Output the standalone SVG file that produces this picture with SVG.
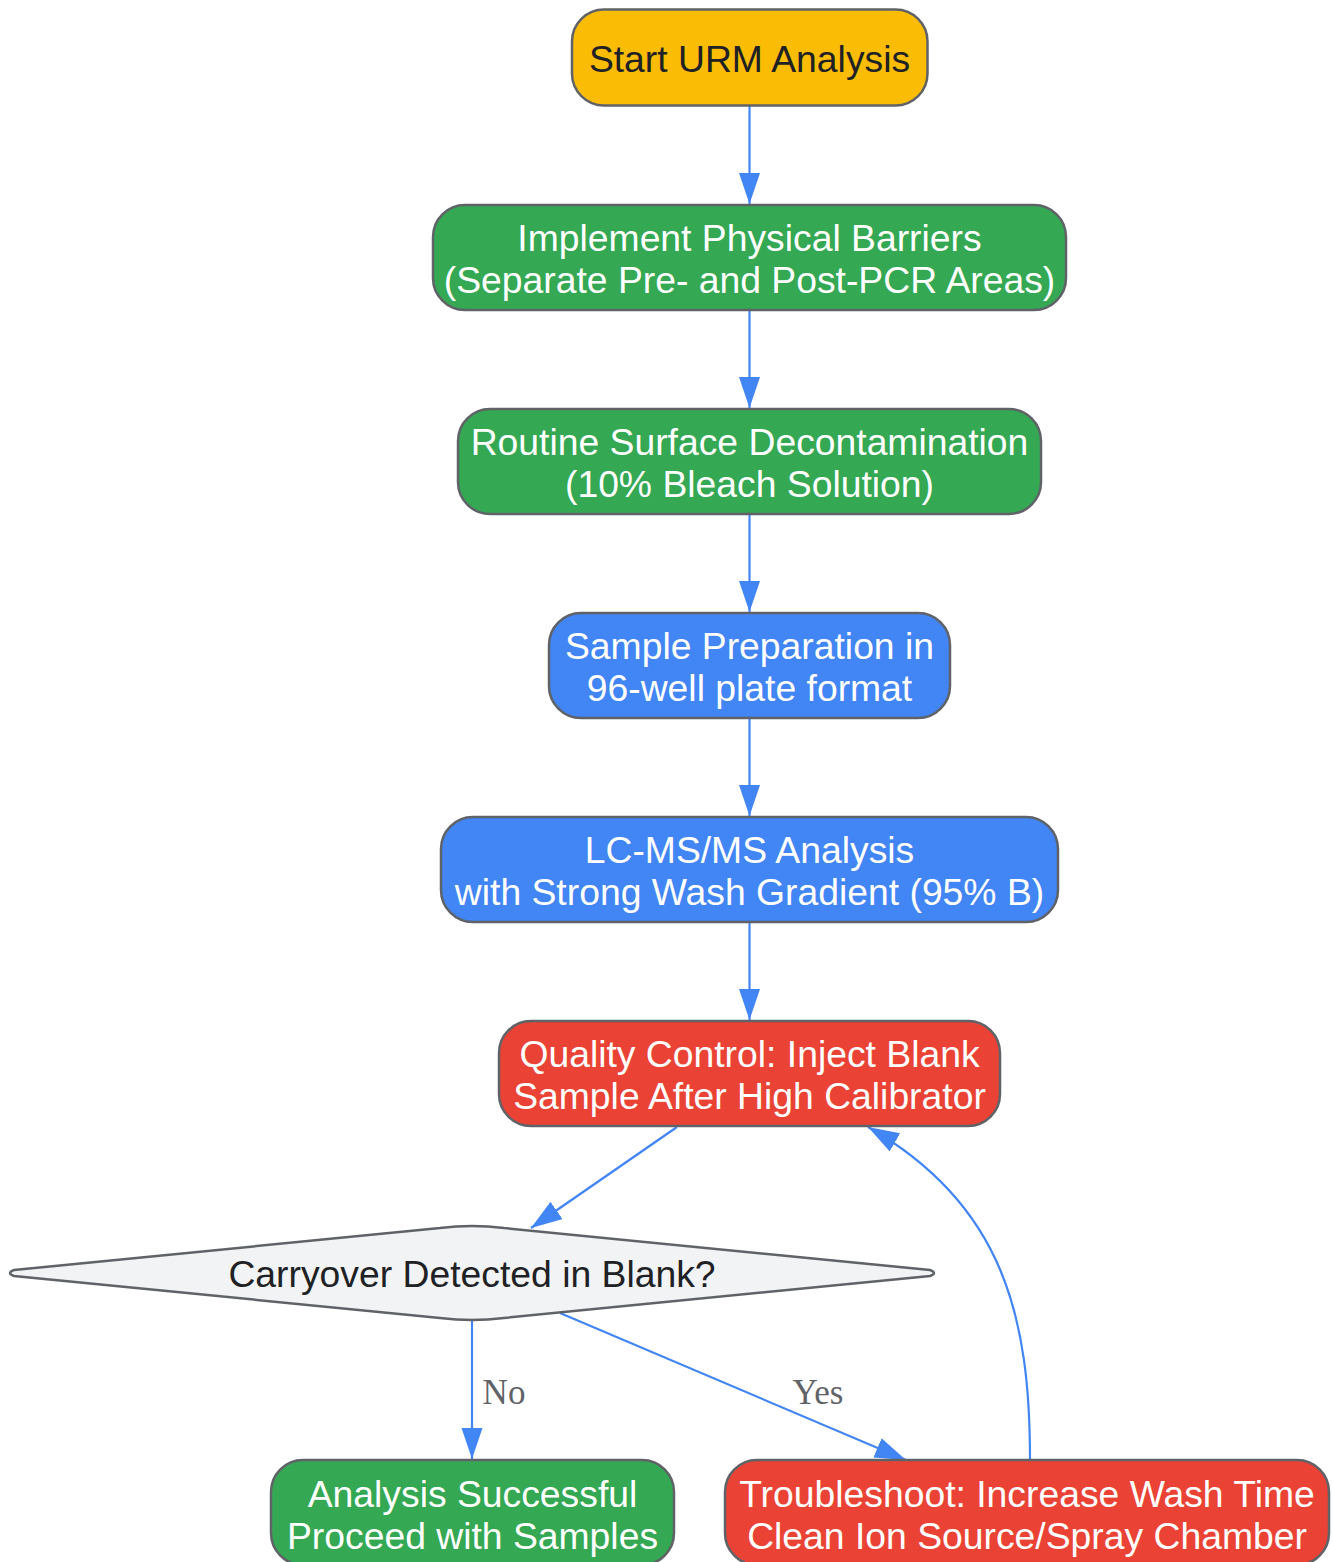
<svg xmlns="http://www.w3.org/2000/svg" width="1333" height="1562" viewBox="0 0 1333 1562">
<style>
.node{stroke:#5f6368;stroke-width:2.5}
.t{font-family:"Liberation Sans",Arial,sans-serif;font-size:37.3px;text-anchor:middle}
.w{fill:#ffffff}
.d{fill:#202124}
.edge{fill:none;stroke:#4285f4;stroke-width:2.2}
.lbl{font-family:"Liberation Serif","Times New Roman",serif;font-size:35px;fill:#5f6368;text-anchor:middle}
</style>
<defs>
<marker id="ah" markerUnits="userSpaceOnUse" markerWidth="32" markerHeight="22" refX="31" refY="10.5" orient="auto">
<path d="M0,0 L31,10.5 L0,21 Z" fill="#4285f4"/>
</marker>
</defs>
<rect width="1333" height="1562" fill="#ffffff"/>
<g id="edges">
<path class="edge" marker-end="url(#ah)" d="M749.5,106 L749.5,204"/>
<path class="edge" marker-end="url(#ah)" d="M749.5,310 L749.5,408"/>
<path class="edge" marker-end="url(#ah)" d="M749.5,514 L749.5,612"/>
<path class="edge" marker-end="url(#ah)" d="M749.5,718 L749.5,816"/>
<path class="edge" marker-end="url(#ah)" d="M749.5,922 L749.5,1020"/>
<path class="edge" marker-end="url(#ah)" d="M677,1127 L531,1228"/>
<path class="edge" marker-end="url(#ah)" d="M472,1320 L472,1459"/>
<path class="edge" marker-end="url(#ah)" d="M560,1313 L906,1460"/>
<path class="edge" marker-end="url(#ah)" d="M1030,1460 C1030,1320 1005,1205 868,1127"/>
<text class="lbl" x="504" y="1404">No</text>
<text class="lbl" x="818" y="1404">Yes</text>
</g>
<g id="start">
<rect class="node" x="572" y="9.5" width="355.5" height="96" rx="32" fill="#fbbc05"/>
<text class="t d" x="749.5" y="72">Start URM Analysis</text>
</g>
<g id="barriers">
<rect class="node" x="433" y="205" width="633" height="105" rx="32" fill="#34a853"/>
<text class="t w" x="749.5" y="251">Implement Physical Barriers</text>
<text class="t w" x="749.5" y="293">(Separate Pre- and Post-PCR Areas)</text>
</g>
<g id="decon">
<rect class="node" x="458" y="409" width="583" height="105" rx="32" fill="#34a853"/>
<text class="t w" x="749.5" y="455">Routine Surface Decontamination</text>
<text class="t w" x="749.5" y="497">(10% Bleach Solution)</text>
</g>
<g id="prep">
<rect class="node" x="549" y="613" width="401" height="105" rx="32" fill="#4285f4"/>
<text class="t w" x="749.5" y="659">Sample Preparation in</text>
<text class="t w" x="749.5" y="701">96-well plate format</text>
</g>
<g id="lcms">
<rect class="node" x="441" y="817" width="617" height="105" rx="32" fill="#4285f4"/>
<text class="t w" x="749.5" y="863">LC-MS/MS Analysis</text>
<text class="t w" x="749.5" y="905">with Strong Wash Gradient (95% B)</text>
</g>
<g id="qc">
<rect class="node" x="499" y="1021" width="501" height="105" rx="32" fill="#ea4335"/>
<text class="t w" x="749.5" y="1067">Quality Control: Inject Blank</text>
<text class="t w" x="749.5" y="1109">Sample After High Calibrator</text>
</g>
<g id="decision">
<path class="node" fill="#f1f3f4" d="M14,1270 L440,1228 Q472,1224 504,1228 L930,1270 Q938,1273 930,1276 L504,1318 Q472,1322 440,1318 L14,1276 Q6,1273 14,1270 Z"/>
<text class="t d" x="472" y="1287">Carryover Detected in Blank?</text>
</g>
<g id="success">
<rect class="node" x="271" y="1460" width="403" height="105" rx="32" fill="#34a853"/>
<text class="t w" x="472.5" y="1507">Analysis Successful</text>
<text class="t w" x="472.5" y="1549">Proceed with Samples</text>
</g>
<g id="troubleshoot">
<rect class="node" x="725" y="1460" width="604" height="105" rx="32" fill="#ea4335"/>
<text class="t w" x="1027" y="1507">Troubleshoot: Increase Wash Time</text>
<text class="t w" x="1027" y="1549">Clean Ion Source/Spray Chamber</text>
</g>
</svg>
